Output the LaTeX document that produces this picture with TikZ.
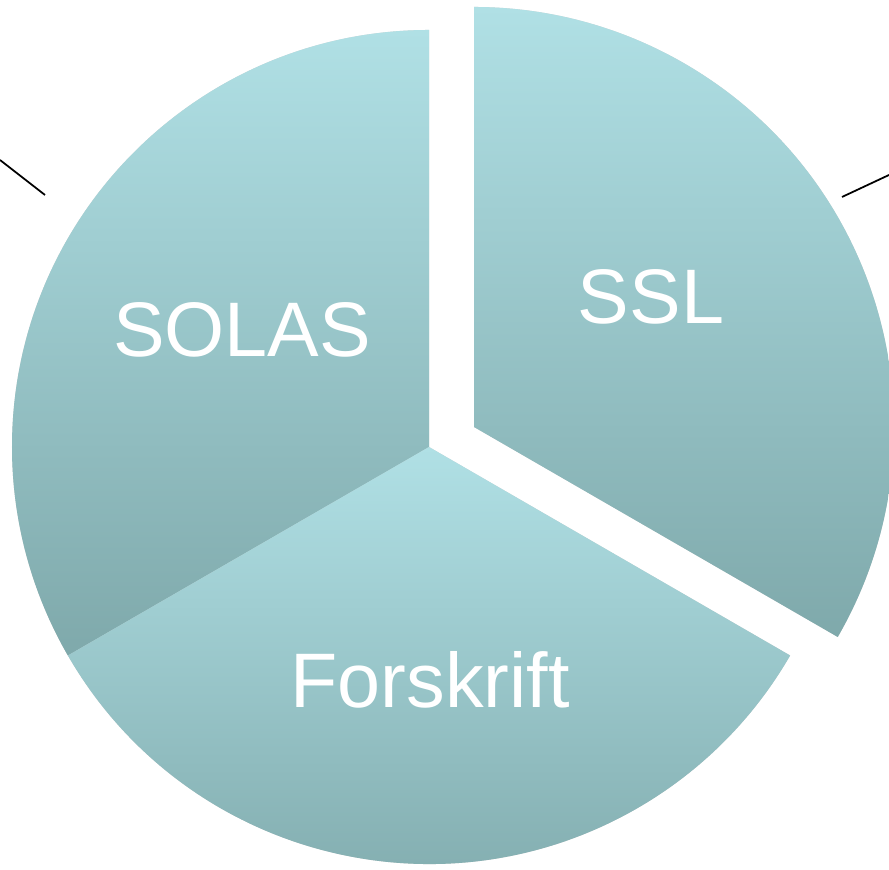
\documentclass[tikz,border=0pt]{standalone}
\usepackage{fontspec}
\setmainfont{Liberation Sans}
\usepackage{tikz}

\definecolor{wedgetop}{HTML}{B0E0E5}
\definecolor{wedgebot}{HTML}{7FA9AB}

\begin{document}
\begin{tikzpicture}[
    wedge/.style={top color=wedgetop, bottom color=wedgebot},
    wedgeshadow/.style={fill=black, opacity=0.18},
    label/.style={text=white, font=\fontsize{22}{26}\selectfont}
  ]
		\useasboundingbox (0,0) rectangle (8.89,8.70);

		% centre of the pie and of the pulled-out piece
		\coordinate (c) at (4.29,4.23);
		\coordinate (e) at (4.74,4.43);

		% shadows
		\fill[wedgeshadow, shift={(0.03,-0.03)}] (c) -- ++(90:4.17) arc (90:210:4.17) -- cycle;
		\fill[wedgeshadow, shift={(0.03,-0.03)}] (c) -- ++(210:4.17) arc (210:330:4.17) -- cycle;
		\fill[wedgeshadow, shift={(0.03,-0.03)}] (e) -- ++(-30:4.20) arc (-30:90:4.20) -- cycle;

		% wedges
		\shade[wedge] (c) -- ++(90:4.17) arc (90:210:4.17) -- cycle;
		\shade[wedge] (c) -- ++(210:4.17) arc (210:330:4.17) -- cycle;
		\shade[wedge] (e) -- ++(-30:4.20) arc (-30:90:4.20) -- cycle;

		% labels
		\node[label] (solas) at (2.42,5.40) {SOLAS};
		\node[label] (ssl) at (6.51,5.73) {SSL};
		\node[label] (forskrift) at (4.30,1.90) {Forskrift};

		% stray lines at the edges
		\coordinate (l1) at (0,7.10);
		\coordinate (l2) at (0.45,6.75);
		\coordinate (r1) at (8.42,6.73);
		\coordinate (r2) at (8.89,6.95);
		\draw[line width=0.5pt] (l1) -- (l2);
		\draw[line width=0.5pt] (r1) -- (r2);
	\end{tikzpicture}
\end{document}
